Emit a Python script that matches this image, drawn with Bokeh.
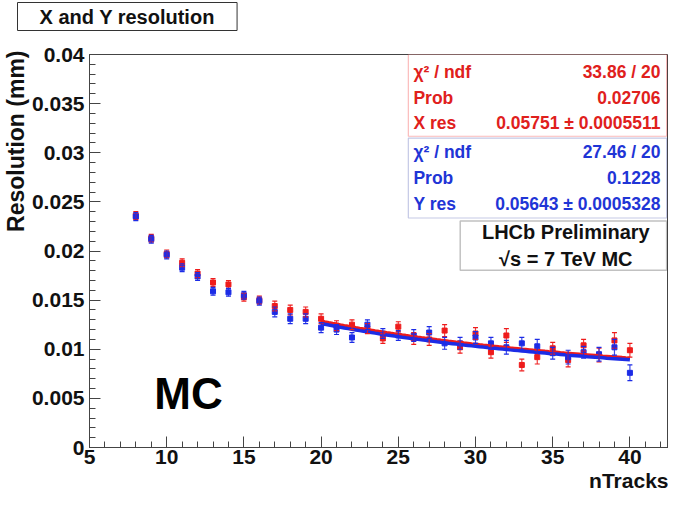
import numpy as np
from bokeh.plotting import figure
from bokeh.models import (Range1d, FixedTicker, CustomJSTickFormatter, Label, Title,
                          BoxAnnotation, Whisker, ColumnDataSource, TeeHead)
from bokeh.embed import file_html
from bokeh.resources import INLINE

# ---------------- data ----------------
n_tracks = list(range(8, 41))
x_res = [0.0236, 0.0213, 0.0197, 0.0188, 0.0177, 0.0168, 0.0166, 0.0153, 0.0150,
         0.0144, 0.0140, 0.0138, 0.0131, 0.0124, 0.0125, 0.0121, 0.0111, 0.0123,
         0.0111, 0.0110, 0.0119, 0.0102, 0.0116, 0.0097, 0.0114, 0.0084, 0.0092,
         0.0101, 0.0089, 0.0104, 0.0094, 0.0109, 0.0099]
x_err = [0.0004, 0.0004, 0.0004, 0.0004, 0.0004, 0.0004, 0.0004, 0.0004, 0.0004,
         0.0005, 0.0005, 0.0005, 0.0005, 0.0005, 0.0005, 0.0005, 0.0005, 0.0005,
         0.0006, 0.0006, 0.0006, 0.0006, 0.0006, 0.0006, 0.0007, 0.0006, 0.0007,
         0.0006, 0.0007, 0.0006, 0.0007, 0.0008, 0.0007]
y_res = [0.0235, 0.0212, 0.0196, 0.0183, 0.0174, 0.0159, 0.0158, 0.0155, 0.0149,
         0.0138, 0.0131, 0.0131, 0.0122, 0.0120, 0.0112, 0.0125, 0.0116, 0.0114,
         0.0114, 0.0117, 0.0106, 0.0106, 0.0112, 0.0106, 0.0102, 0.0106, 0.0103,
         0.0096, 0.0092, 0.0097, 0.0095, 0.0102, 0.0076]
y_err = [0.0004, 0.0004, 0.0004, 0.0004, 0.0004, 0.0004, 0.0004, 0.0004, 0.0004,
         0.0005, 0.0005, 0.0005, 0.0005, 0.0005, 0.0005, 0.0005, 0.0005, 0.0005,
         0.0006, 0.0006, 0.0006, 0.0006, 0.0006, 0.0006, 0.0007, 0.0006, 0.0007,
         0.0006, 0.0007, 0.0006, 0.0007, 0.0008, 0.0008]

# fit results (p0 / sqrt(nTracks)) as shown in the stat boxes
x_fit_p0 = 0.05751
y_fit_p0 = 0.05643
fit_start, fit_end = 20, 40

x_ticks = [5, 10, 15, 20, 25, 30, 35, 40]
y_ticks = [0, 0.005, 0.01, 0.015, 0.02, 0.025, 0.03, 0.035, 0.04]

red_stats = [("χ² / ndf", "33.86 / 20"), ("Prob", "0.02706"),
             ("X res", "0.05751 ± 0.0005511")]
blue_stats = [("χ² / ndf", "27.46 / 20"), ("Prob", "0.1228"),
              ("Y res", "0.05643 ± 0.0005328")]

# ---------------- style ----------------
FONT = "Liberation Sans"
RED = "#ee1c1c"
BLUE = "#1c2ce6"
RED_TXT = "#e0201c"
BLUE_TXT = "#1f35d6"
AX = "#444444"

p = figure(width=668, height=491, x_range=Range1d(5, 42.5), y_range=Range1d(0, 0.04),
           output_backend="svg", toolbar_location=None,
           min_border_left=87, min_border_right=0, min_border_top=0, min_border_bottom=0)
p.xgrid.visible = False
p.ygrid.visible = False
p.outline_line_color = AX
p.background_fill_color = "white"
p.border_fill_color = "white"

for ax in (p.xaxis[0], p.yaxis[0]):
    ax.major_tick_in = 11
    ax.major_tick_out = 0
    ax.minor_tick_in = 6
    ax.minor_tick_out = 0
    ax.axis_line_color = AX
    ax.major_tick_line_color = AX
    ax.minor_tick_line_color = AX
    ax.major_label_text_font = FONT
    ax.major_label_text_font_style = "bold"
    ax.major_label_text_font_size = "21px"
    ax.major_label_text_color = "#111111"

p.xaxis.ticker = FixedTicker(ticks=x_ticks, minor_ticks=list(range(5, 43)))
p.yaxis.ticker = FixedTicker(ticks=y_ticks, minor_ticks=[i * 0.001 for i in range(41)])
p.yaxis.formatter = CustomJSTickFormatter(
    code="return tick == 0 ? '0' : String(parseFloat(tick.toFixed(4)));")
p.xaxis.major_label_standoff = 2
p.yaxis.major_label_standoff = 5

# ---------------- titles (side panels) ----------------
# boxed main title (outermost panel above the frame)
p.title.text = "X and Y resolution"
p.title.align = "left"
p.title.offset = -72
p.title.standoff = 0
p.title.vertical_align = "bottom"
p.title.text_font = FONT
p.title.text_font_style = "bold"
p.title.text_font_size = "20px"
p.title.text_color = "#111111"
p.title.border_line_color = "#333333"
p.title.border_line_width = 1
p.title.background_fill_color = "white"
p.title.padding = (22, 3)

# blank panel between title box and frame (gap)
gap = Title(text=" ", text_font_size="20px", standoff=0)
p.add_layout(gap, "above")

ylab = Title(text="Resolution (mm)", align="right", text_font=FONT,
             text_font_style="bold", text_font_size="23px", text_color="#111111",
             standoff=0, offset=-4)
p.add_layout(ylab, "left")
xlab = Title(text="nTracks", align="right", text_font=FONT,
             text_font_style="bold", text_font_size="21px", text_color="#111111",
             standoff=0, offset=0)
p.add_layout(xlab, "below")

# ---------------- data marks ----------------
def series(vals, errs, color):
    src = ColumnDataSource(dict(n=n_tracks, v=vals,
                                lo=[v - e for v, e in zip(vals, errs)],
                                hi=[v + e for v, e in zip(vals, errs)]))
    w = Whisker(source=src, base="n", upper="hi", lower="lo",
                line_color=color, line_width=1.2, line_alpha=0.85,
                upper_head=TeeHead(size=5, line_color=color, line_width=1.2),
                lower_head=TeeHead(size=5, line_color=color, line_width=1.2))
    w.level = "glyph"
    p.add_layout(w)
    p.scatter("n", "v", source=src, marker="square", size=5, color=color)

series(x_res, x_err, RED)
series(y_res, y_err, BLUE)

fx = np.linspace(fit_start, fit_end, 81)
p.line(fx, x_fit_p0 / np.sqrt(fx), line_color=RED, line_width=3.5)
p.line(fx, y_fit_p0 / np.sqrt(fx), line_color=BLUE, line_width=3.5)

# ---------------- annotations inside the frame (axis units) ----------------
def lab(text, x, y, size, color="#111111", align="left", baseline="middle", **kw):
    l = Label(x=x, y=y, text=text,
              text_font=FONT, text_font_style="bold", text_font_size=size,
              text_color=color, text_align=align, text_baseline=baseline, **kw)
    p.add_layout(l)
    return l

def box(l, r, t, b, color, width):
    p.add_layout(BoxAnnotation(left=l, right=r, top=t, bottom=b,
                               fill_color="white", fill_alpha=1.0,
                               line_color=color, line_width=width))

BOX_L, BOX_R = 25.65, 42.38
TXT_L, TXT_R = 25.98, 41.98

# stat boxes
box(BOX_L, BOX_R, 0.0400, 0.03168, RED, 1.2)
box(BOX_L, BOX_R, 0.03148, 0.02336, "#3a4aa8", 1.2)
for (k, v), y in zip(red_stats, [0.03820, 0.03559, 0.03298]):
    lab(k, TXT_L, y, "17.5px", color=RED_TXT)
    lab(v, TXT_R, y, "17.5px", color=RED_TXT, align="right")
for (k, v), y in zip(blue_stats, [0.03008, 0.02747, 0.02476]):
    lab(k, TXT_L, y, "17.5px", color=BLUE_TXT)
    lab(v, TXT_R, y, "17.5px", color=BLUE_TXT, align="right")

# LHCb box
box(29.01, BOX_R, 0.02306, 0.01805, "#333333", 1.5)
lab("LHCb Preliminary", 35.85, 0.02195, "20px", align="center")
lab("√s = 7 TeV MC", 35.85, 0.01915, "20px", align="center")

# MC label
lab("MC", 9.2, 0.0055, "44px", color="#000000", baseline="alphabetic")

open("out.html", "w").write(file_html(p, INLINE))
